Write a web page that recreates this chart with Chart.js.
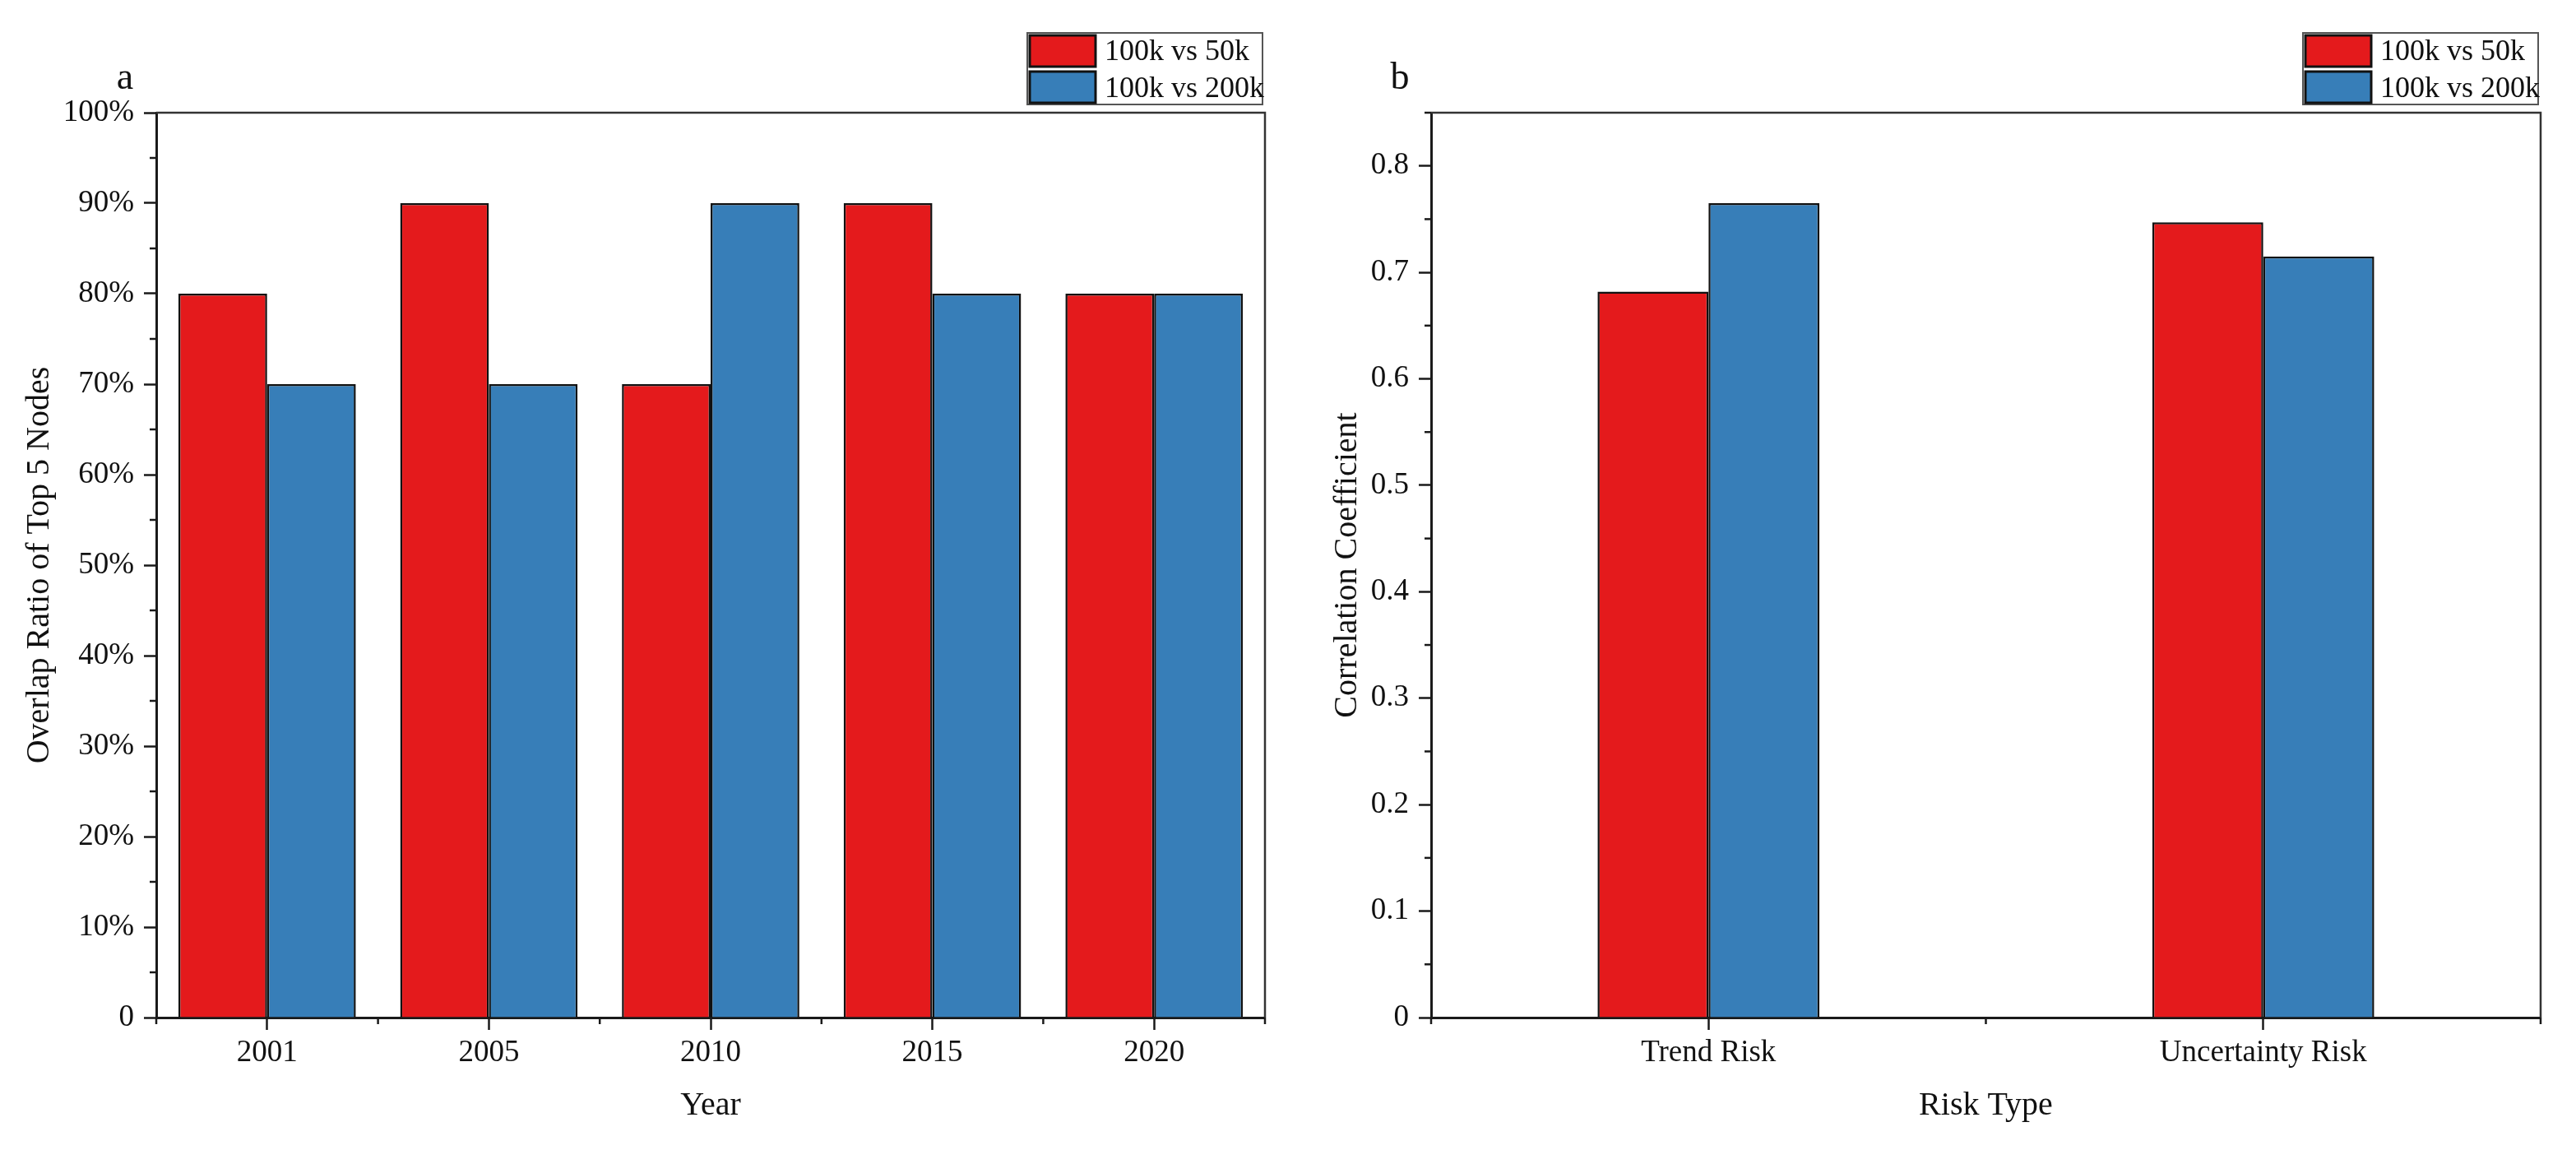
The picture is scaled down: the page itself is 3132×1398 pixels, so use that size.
<!DOCTYPE html>
<html>
<head>
<meta charset="utf-8">
<script src="https://cdn.jsdelivr.net/npm/chart.js@4.4.1/dist/chart.umd.min.js"></script>
<style>
    html, body { margin: 0; padding: 0; background: #fff; }
    .wrap { display: flex; width: 3132px; height: 1398px; }
    .panel { width: 1566px; height: 1398px; }
</style>
</head>
<body>
<div class="wrap">
    <div class="panel"><canvas id="chartA" width="1566" height="1398"></canvas></div>
    <div class="panel"><canvas id="chartB" width="1566" height="1398"></canvas></div>
</div>
<script>
const seriesNames = ['100k vs 50k', '100k vs 200k'];
const seriesColors = ['#E41A1C', '#377EB8'];

// panel a
const years = ['2001', '2005', '2010', '2015', '2020'];
const overlap50k = [80, 90, 70, 90, 80];
const overlap200k = [70, 70, 90, 80, 80];

// panel b
const riskTypes = ['Trend Risk', 'Uncertainty Risk'];
const corr50k = [0.682, 0.747];
const corr200k = [0.765, 0.715];

Chart.defaults.font.family = "'Liberation Serif', 'Times New Roman', serif";
Chart.defaults.color = '#111';

const axisColor = '#1a1a1a';

// frame, minor ticks, panel letter and legend box
const decorPlugin = {
    id: 'decor',
    afterDraw(chart, args, opts) {
        const { ctx, chartArea } = chart;
        const { left, right, top, bottom } = chartArea;
        const y = chart.scales.y;
        ctx.save();

        // top and right frame lines
        ctx.strokeStyle = '#333';
        ctx.lineWidth = 2.5;
        ctx.beginPath();
        ctx.moveTo(left, top);
        ctx.lineTo(right, top);
        ctx.lineTo(right, bottom);
        ctx.stroke();

        // minor y ticks
        ctx.strokeStyle = axisColor;
        ctx.lineWidth = 2.5;
        for (let k = 0; ; k++) {
            const v = (k + 0.5) * opts.majorStep;
            if (v > y.max + 1e-9) break;
            const py = y.getPixelForValue(v);
            ctx.beginPath();
            ctx.moveTo(left, py);
            ctx.lineTo(left - 8, py);
            ctx.stroke();
        }

        // minor x ticks at category boundaries
        const n = chart.data.labels.length;
        const w = (right - left) / n;
        for (let k = 0; k <= n; k++) {
            const px = left + k * w;
            ctx.beginPath();
            ctx.moveTo(px, bottom);
            ctx.lineTo(px, bottom + 8);
            ctx.stroke();
        }

        // panel letter
        ctx.fillStyle = '#111';
        ctx.font = "46px 'Liberation Serif', serif";
        ctx.textAlign = 'center';
        ctx.textBaseline = 'alphabetic';
        ctx.fillText(opts.letter, left - 38, 108);

        // legend
        const bw = 286, bh = 87;
        const bx = right - 3 - bw, by = 40;
        ctx.fillStyle = '#fff';
        ctx.fillRect(bx, by, bw, bh);
        ctx.strokeStyle = '#555';
        ctx.lineWidth = 2;
        ctx.strokeRect(bx, by, bw, bh);
        chart.data.datasets.forEach((ds, i) => {
            const sy = by + 3 + i * 44;
            ctx.fillStyle = ds.backgroundColor;
            ctx.fillRect(bx + 3, sy, 80, 38);
            ctx.strokeStyle = '#111';
            ctx.lineWidth = 3;
            ctx.strokeRect(bx + 3, sy, 80, 38);
            ctx.fillStyle = '#111';
            ctx.font = "36px 'Liberation Serif', serif";
            ctx.textAlign = 'left';
            ctx.fillText(ds.label, bx + 94, by + 33 + i * 45);
        });

        ctx.restore();
    }
};

function makeChart(id, cfg) {
    const ctx = document.getElementById(id).getContext('2d');
    return new Chart(ctx, {
        type: 'bar',
        data: {
            labels: cfg.labels,
            datasets: cfg.series.map((values, i) => ({
                label: seriesNames[i],
                data: values,
                backgroundColor: seriesColors[i],
                borderColor: '#111',
                borderWidth: 2.5,
                categoryPercentage: cfg.groupWidth,
                barPercentage: 1.0
            }))
        },
        options: {
            responsive: false,
            animation: false,
            layout: {
                padding: { top: 137, right: cfg.rightPad, bottom: 0, left: 0 }
            },
            plugins: {
                legend: { display: false },
                tooltip: { enabled: false },
                decor: { letter: cfg.letter, majorStep: cfg.step }
            },
            scales: {
                x: {
                    afterFit: s => { s.height = 161; },
                    border: { display: true, width: 3, color: axisColor },
                    grid: {
                        offset: false,
                        drawOnChartArea: false,
                        drawTicks: true,
                        tickLength: 15,
                        tickWidth: 2.5,
                        tickColor: axisColor
                    },
                    ticks: {
                        padding: 6,
                        font: { size: 37 },
                        color: '#111'
                    },
                    title: {
                        display: true,
                        text: cfg.xTitle,
                        font: { size: 40 },
                        padding: { top: 0, bottom: 30 },
                        color: '#111'
                    }
                },
                y: {
                    min: 0,
                    max: cfg.yMax,
                    afterFit: s => { s.width = cfg.leftWidth; },
                    border: { display: true, width: 3, color: axisColor },
                    grid: {
                        drawOnChartArea: false,
                        drawTicks: true,
                        tickLength: 15,
                        tickWidth: 2.5,
                        tickColor: axisColor
                    },
                    ticks: {
                        stepSize: cfg.step,
                        includeBounds: false,
                        padding: 12,
                        font: { size: 37 },
                        color: '#111',
                        callback: cfg.tickFormat
                    },
                    title: {
                        display: true,
                        text: cfg.yTitle,
                        font: { size: 40 },
                        padding: { top: cfg.titlePad, bottom: 0 },
                        color: '#111'
                    }
                }
            }
        },
        plugins: [decorPlugin]
    });
}

makeChart('chartA', {
    labels: years,
    series: [overlap50k, overlap200k],
    groupWidth: 0.8,
    yMax: 100,
    step: 10,
    leftWidth: 190,
    rightPad: 28,
    titlePad: 24,
    letter: 'a',
    xTitle: 'Year',
    yTitle: 'Overlap Ratio of Top 5 Nodes',
    tickFormat: v => (v === 0 ? '0' : v + '%')
});

makeChart('chartB', {
    labels: riskTypes,
    series: [corr50k, corr200k],
    groupWidth: 0.4,
    yMax: 0.85,
    step: 0.1,
    leftWidth: 174,
    rightPad: 43,
    titlePad: 48,
    letter: 'b',
    xTitle: 'Risk Type',
    yTitle: 'Correlation Coefficient',
    tickFormat: v => (v === 0 ? '0' : v.toFixed(1))
});
</script>
</body>
</html>
